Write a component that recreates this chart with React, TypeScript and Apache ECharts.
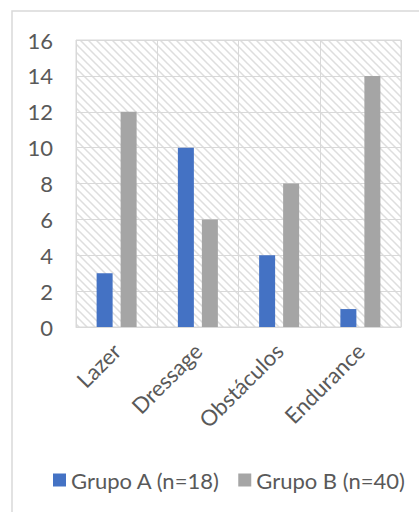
import React, { useEffect, useRef } from "react";
import * as echarts from "echarts";

const categories = ["Lazer", "Dressage", "Obstáculos", "Endurance"];
const grupoA = [3, 10, 4, 1];
const grupoB = [12, 6, 8, 14];
const seriesNames = ["Grupo A (n=18)", "Grupo B (n=40)"];

const FONT = "Lato, 'Noto Sans', sans-serif";
const TEXT = "#595959";
const LINE = "#d9d9d9";

// Small tile with a downward diagonal stroke, repeated over the plot area.
function makeHatch(): HTMLCanvasElement {
  const c = document.createElement("canvas");
  c.width = 8;
  c.height = 8;
  const ctx = c.getContext("2d")!;
  ctx.fillStyle = "#ffffff";
  ctx.fillRect(0, 0, 8, 8);
  ctx.strokeStyle = "#dedede";
  ctx.lineWidth = 1.5;
  ctx.beginPath();
  ctx.moveTo(-2, -2);
  ctx.lineTo(10, 10);
  ctx.moveTo(-10, -2);
  ctx.lineTo(2, 10);
  ctx.moveTo(6, -2);
  ctx.lineTo(18, 10);
  ctx.stroke();
  return c;
}

export default function App() {
  const ref = useRef<HTMLDivElement>(null);

  useEffect(() => {
    if (!ref.current) return;
    const chart = echarts.init(ref.current, undefined, { renderer: "svg" });
    chart.setOption({
      animation: false,
      backgroundColor: "#ffffff",
      textStyle: { fontFamily: FONT },
      graphic: [
        {
          type: "rect",
          shape: { x: 12, y: 11, width: 430, height: 530 },
          style: { fill: "none", stroke: LINE, lineWidth: 1.5 },
          silent: true,
          z: -1,
        },
      ],
      grid: {
        left: 76,
        top: 40,
        width: 325,
        height: 287,
        show: true,
        backgroundColor: { image: makeHatch(), repeat: "repeat" },
        borderColor: LINE,
        borderWidth: 1,
      },
      legend: {
        top: 464,
        left: 48,
        itemWidth: 13,
        itemHeight: 13,
        itemGap: 18,
        icon: "rect",
        textStyle: { color: TEXT, fontSize: 22, fontFamily: FONT },
        data: seriesNames,
      },
      xAxis: {
        type: "category",
        data: categories,
        axisLine: { show: true, lineStyle: { color: LINE } },
        axisTick: { show: false },
        splitLine: { show: true, lineStyle: { color: LINE, width: 1 } },
        axisLabel: {
          interval: 0,
          rotate: 45,
          margin: 20,
          color: TEXT,
          fontSize: 22,
          fontFamily: FONT,
        },
      },
      yAxis: {
        type: "value",
        min: 0,
        max: 16,
        interval: 2,
        axisLine: { show: false },
        axisTick: { show: false },
        splitLine: { lineStyle: { color: LINE, width: 1 } },
        axisLabel: { color: TEXT, fontSize: 22, margin: 23, fontFamily: FONT },
      },
      series: [
        {
          name: seriesNames[0],
          type: "bar",
          data: grupoA,
          itemStyle: { color: "#4472C4" },
          barWidth: 16,
          barGap: "50%",
        },
        {
          name: seriesNames[1],
          type: "bar",
          data: grupoB,
          itemStyle: { color: "#A5A5A5" },
          barWidth: 16,
          barGap: "50%",
        },
      ],
    });
    return () => chart.dispose();
  }, []);

  return (
    <div
      ref={ref}
      style={{ position: "absolute", left: 0, top: 0, width: 419, height: 512 }}
    />
  );
}
